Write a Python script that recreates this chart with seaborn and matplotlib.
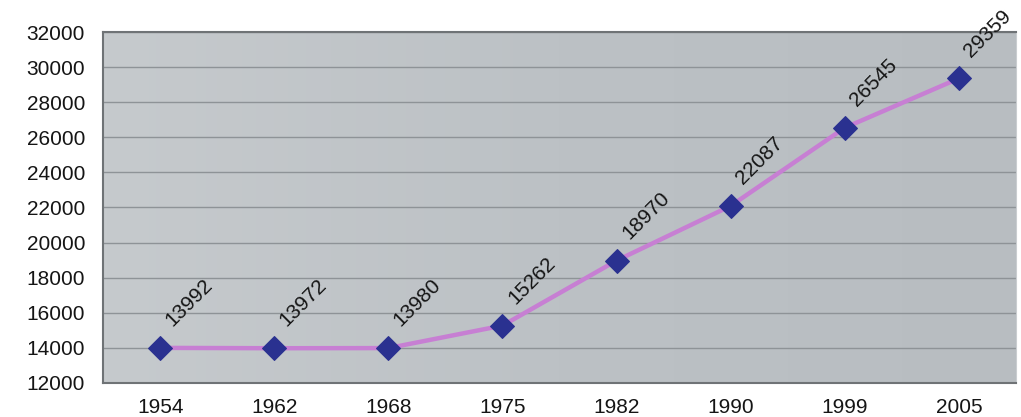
import pandas as pd
import numpy as np
import matplotlib
matplotlib.use("Agg")
import matplotlib.pyplot as plt
import seaborn as sns

years = ['1954', '1962', '1968', '1975', '1982', '1990', '1999', '2005']
values = [13992, 13972, 13980, 15262, 18970, 22087, 26545, 29359]

df = pd.DataFrame({'year': years, 'value': values})
df['pos'] = np.arange(len(years))

sns.set_style('white')
plt.rcParams['font.family'] = ['Liberation Sans', 'DejaVu Sans']

fig = plt.figure(figsize=(10.21, 4.17), dpi=100)
ax = fig.add_axes([0.101, 0.082, 0.894, 0.841])

# gray gradient background like the original spreadsheet chart
grad = np.linspace(0.0, 1.0, 256).reshape(1, -1)
ax.imshow(grad, extent=[-0.5, 7.5, 12000, 32000], aspect='auto',
          cmap=matplotlib.colors.LinearSegmentedColormap.from_list(
              'bg', ['#c6cacd', '#bcc1c5', '#b8bdc1']),
          zorder=0)

for yv in range(14000, 32001, 2000):
    ax.axhline(yv, color='#8e9397', lw=1.0, zorder=1)

sns.lineplot(data=df, x='pos', y='value', ax=ax, color='#c77fd3', lw=3.2,
             marker='D', markersize=12, markerfacecolor='#2a3190',
             markeredgecolor='#2a3190', zorder=3)

for p, v in zip(df['pos'], df['value']):
    ax.annotate(str(v), (p, v), xytext=(11, 13), textcoords='offset points',
                rotation=45, rotation_mode='anchor', ha='left', va='bottom',
                fontsize=15, color='#151515', zorder=4)

ax.set_xlim(-0.5, 7.5)
ax.set_ylim(12000, 32000)
ax.set_xticks(df['pos'])
ax.set_xticklabels(years)
ax.set_yticks(range(12000, 32001, 2000))
ax.tick_params(axis='x', length=0, pad=11, labelsize=15, labelcolor='#151515')
ax.tick_params(axis='y', length=4, width=0.8, color='#d0d3d6', pad=9,
               labelsize=15, labelcolor='#151515')
ax.set_xlabel('')
ax.set_ylabel('')
for s in ax.spines.values():
    s.set_color('#6f7376')
    s.set_linewidth(1.5)
ax.spines['right'].set_color('#c9cdd0')
ax.spines['right'].set_linewidth(0.8)

fig.savefig('out.png', dpi=100)
